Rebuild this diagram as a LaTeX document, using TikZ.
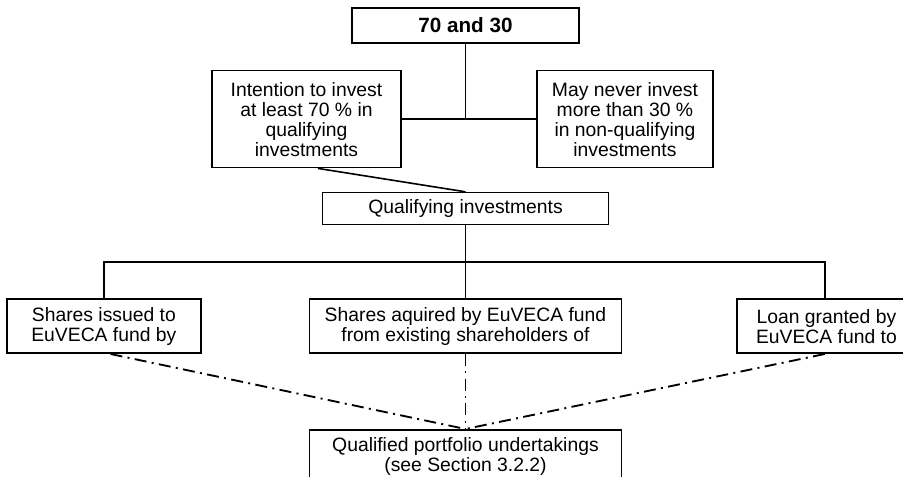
\documentclass[tikz,border=0pt]{standalone}
\usepackage{fontspec}
\setmainfont{Liberation Sans}
\usetikzlibrary{positioning,calc}

\tikzset{
  box/.style={draw, line width=1.2pt, align=center, inner sep=2pt,
    font=\fontsize{14.5}{15}\selectfont},
  linkline/.style={line width=1.2pt},
  dashdotline/.style={line width=1.4pt, dash pattern=on 9pt off 4pt on 1.5pt off 4pt}
}

\begin{document}
\begin{tikzpicture}[node distance=19.5pt]
    \useasboundingbox (-349.125pt,19.125pt) rectangle (328.125pt,-337.875pt);
    \clip (-349.125pt,19.125pt) rectangle (328.125pt,-337.875pt);

    \node[box, font=\bfseries\fontsize{15.5}{16}\selectfont, minimum width=170.25pt, minimum height=26.25pt] (total) {70 and 30};
    \node[box, below=of total, xshift=-119.25pt, minimum width=141.75pt, minimum height=72.75pt] (invest) {Intention to invest\\at least 70 \% in\\qualifying\\investments};
    \node[box, below=of total, xshift=119.6pt, minimum width=132pt, minimum height=72.75pt] (limit) {May never invest\\more than 30 \%\\in non-qualifying\\investments};
    \node[box, below=111pt of total, minimum width=214.5pt, minimum height=24pt] (qual) {Qualifying investments};

    \node[box, below=54.75pt of qual, minimum width=234pt, minimum height=40.5pt] (acquired) {Shares aquired by EuVECA fund\\from existing shareholders of};
    \node[box, left=80.25pt of acquired, minimum width=145.5pt, minimum height=40.5pt] (issued) {Shares issued to\\EuVECA fund by};
    \node[box, right=85.5pt of acquired, minimum width=134pt, minimum height=40.5pt] (loan) {Loan granted by\\EuVECA fund to};
    \node[box, below=56.25pt of acquired, minimum width=234pt, minimum height=40.5pt] (qpu) {Qualified portfolio undertakings\\(see Section 3.2.2)};

    \draw[linkline] (total.south) -- (total |- invest.east);
    \draw[linkline] (invest.east) -- (limit.west);
    \draw[linkline] ([xshift=8.6pt]invest.south) -- (qual.north);
    \draw[linkline] (qual.south) -- (acquired.north);
    \draw[linkline] (issued.north) |- ($(qual.south)!0.5!(acquired.north)$) -| ([xshift=-1.3pt]loan.north);

    \draw[dashdotline] ([xshift=5pt]issued.south) -- (qpu.north);
    \draw[dashdotline] (acquired.south) -- (qpu.north);
    \draw[dashdotline] ([xshift=-1.3pt]loan.south) -- (qpu.north);
\end{tikzpicture}
\end{document}
